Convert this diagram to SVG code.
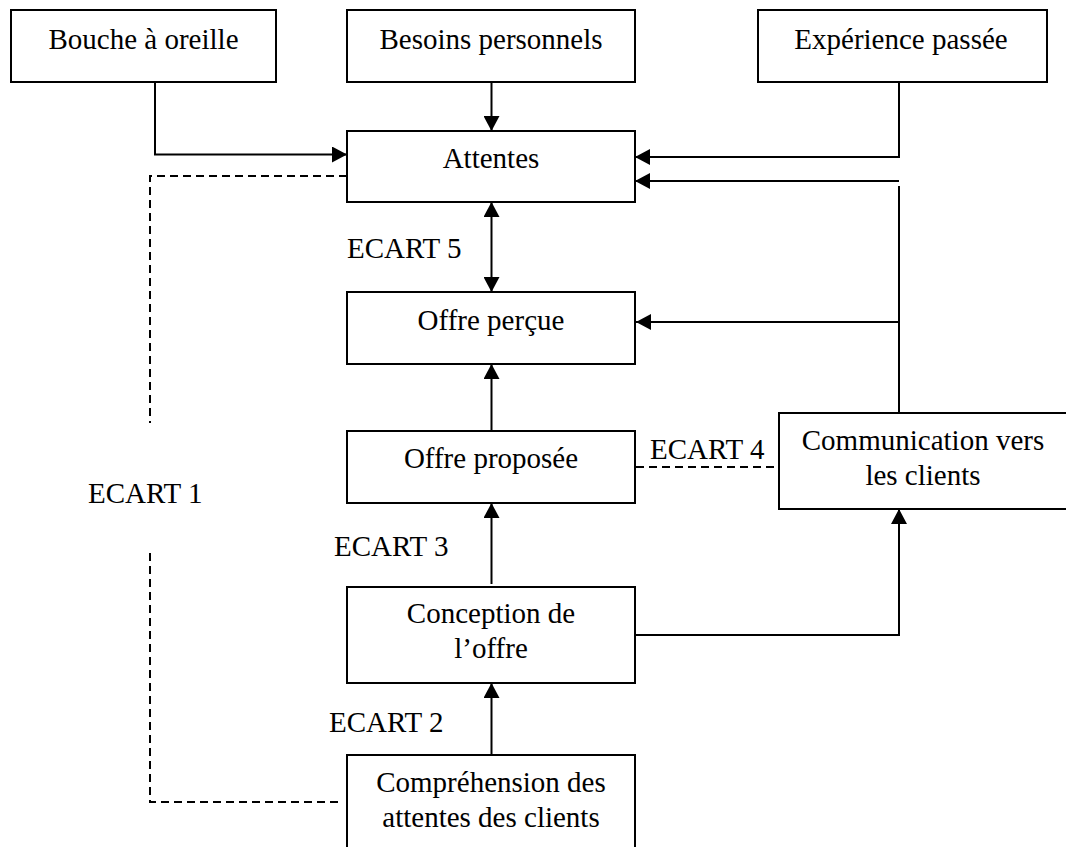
<svg xmlns="http://www.w3.org/2000/svg" width="1066" height="847" viewBox="0 0 1066 847">
  <style>
    .box { fill: #ffffff; stroke: #000000; stroke-width: 2; }
    .lbl { font-family: "Liberation Serif", "Times New Roman", serif; font-size: 29px; fill: #000000; text-anchor: middle; }
    .gap { font-family: "Liberation Serif", "Times New Roman", serif; font-size: 29px; fill: #000000; }
    .link { fill: none; stroke: #000000; stroke-width: 2; }
    .arrow { marker-end: url(#head); }
    .dash { fill: none; stroke: #000000; stroke-width: 2; stroke-dasharray: 8 5; }
  </style>
  <defs>
    <marker id="head" markerUnits="userSpaceOnUse" markerWidth="16" markerHeight="16" refX="15" refY="8" orient="auto-start-reverse">
      <path d="M0,0 L15,8 L0,16 z" fill="#000000"/>
    </marker>
  </defs>
  <rect width="1066" height="847" fill="#ffffff"/>

  <!-- connectors -->
  <g id="connectors">
    <path class="link arrow" d="M155,82 V154.5 H347"/>
    <path class="link arrow" d="M491.5,82 V131"/>
    <path class="link arrow" d="M899,82 V157 H635"/>
    <path class="link arrow" d="M899,181 H635"/>
    <path class="link" d="M899,186 V413"/>
    <path class="link arrow" d="M899,322 H636"/>
    <path class="link arrow" d="M491.5,202 V292" marker-start="url(#head)"/>
    <path class="link arrow" d="M491.5,431 V364"/>
    <path class="link arrow" d="M491.5,584 V503"/>
    <path class="link arrow" d="M491.5,755 V683"/>
    <path class="link arrow" d="M636,635 H899 V509"/>
    <path class="dash" d="M347,176 H150 V423"/>
    <path class="dash" d="M150,553 V802 H342"/>
    <path class="dash" d="M636,467 H779"/>
  </g>

  <!-- gap labels -->
  <g id="gaps">
    <text class="gap" x="347" y="258">ECART 5</text>
    <text class="gap" x="88" y="503">ECART 1</text>
    <text class="gap" x="650" y="459">ECART 4</text>
    <text class="gap" x="334" y="556">ECART 3</text>
    <text class="gap" x="329" y="732">ECART 2</text>
  </g>

  <g id="bouche">
    <rect class="box" x="11" y="10" width="265" height="72"/>
    <text class="lbl" x="143.5" y="49">Bouche à oreille</text>
  </g>
  <g id="besoins">
    <rect class="box" x="347" y="10" width="288" height="72"/>
    <text class="lbl" x="491" y="49">Besoins personnels</text>
  </g>
  <g id="experience">
    <rect class="box" x="758" y="10" width="289" height="72"/>
    <text class="lbl" x="901" y="49">Expérience passée</text>
  </g>
  <g id="attentes">
    <rect class="box" x="347" y="131" width="288" height="71"/>
    <text class="lbl" x="491" y="168">Attentes</text>
  </g>
  <g id="offre-percue">
    <rect class="box" x="347" y="292" width="288" height="72"/>
    <text class="lbl" x="491" y="330">Offre perçue</text>
  </g>
  <g id="offre-proposee">
    <rect class="box" x="347" y="431" width="288" height="72"/>
    <text class="lbl" x="491" y="468">Offre proposée</text>
  </g>
  <g id="communication">
    <rect class="box" x="779" y="413" width="288" height="96"/>
    <text class="lbl" x="923" y="450">Communication vers</text>
    <text class="lbl" x="923" y="484.5">les clients</text>
  </g>
  <g id="conception">
    <rect class="box" x="347" y="587" width="288" height="96"/>
    <text class="lbl" x="491" y="623">Conception de</text>
    <text class="lbl" x="491" y="658">l’offre</text>
  </g>
  <g id="comprehension">
    <rect class="box" x="347" y="755" width="288" height="100"/>
    <text class="lbl" x="491" y="791.5">Compréhension des</text>
    <text class="lbl" x="491" y="826.5">attentes des clients</text>
  </g>
</svg>
